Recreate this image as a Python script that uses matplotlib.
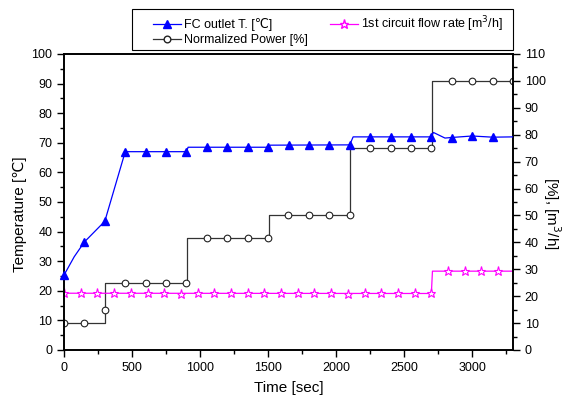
import matplotlib
matplotlib.use('Agg')
import matplotlib.pyplot as plt
from matplotlib.patches import Rectangle
from matplotlib.ticker import MultipleLocator

plt.rcParams['font.family'] = ['Liberation Sans', 'DejaVu Sans']

# FC outlet temperature [C] - line breakpoints and sampled markers
temp_line_t = [0, 75, 150, 300, 450, 900, 912, 1500, 1515, 2100, 2125, 2700, 2715, 2800,
               2850, 3000, 3150, 3300]
temp_line_v = [25.3, 31.5, 36.5, 43.5, 67.0, 67.0, 68.5, 68.5, 69.2, 69.3, 72.0, 72.0, 73.5, 71.6,
               71.8, 72.3, 71.9, 72.0]
temp_mark_t = [0, 150, 300, 450, 600, 750, 900, 1050, 1200, 1350, 1500, 1650, 1800, 1950,
               2100, 2250, 2400, 2550, 2700, 2850, 3000, 3150]
temp_mark_v = [25.3, 36.5, 43.5, 67.0, 67.0, 67.0, 67.0, 68.5, 68.5, 68.5, 68.5, 69.2, 69.2, 69.2,
               69.3, 72.0, 72.0, 71.9, 72.0, 71.6, 72.3, 71.9]

# Normalized power [%]
power_line_t = [0, 300, 300, 905, 905, 1505, 1505, 2105, 2105, 2705, 2705, 3300]
power_line_v = [10, 10, 25, 25, 41.8, 41.8, 50, 50, 75, 75, 100, 100]
power_mark_t = [0, 150, 300, 450, 600, 750, 900, 1050, 1200, 1350, 1500, 1650, 1800, 1950,
                2100, 2250, 2400, 2550, 2700, 2850, 3000, 3150, 3300]
power_mark_v = [10, 10, 14.7, 25, 25, 25, 25, 41.8, 41.8, 41.8, 41.8, 50, 50, 50,
                50, 75, 75, 75, 75, 100, 100, 100, 100]

# 1st circuit flow rate [m3/h]
flow_line_t = [0, 2700, 2708, 3300]
flow_line_v = [21.1, 21.0, 29.3, 29.3]
flow_mark_t = [0, 123, 245, 368, 491, 614, 736, 859, 982, 1105, 1227, 1350, 1473, 1595,
               1718, 1841, 1964, 2086, 2209, 2332, 2455, 2577, 2700, 2823, 2945, 3068, 3191]
flow_mark_v = [21.1, 21.1, 21.1, 21.2, 21.3, 21.1, 21.2, 20.9, 21.1, 21.1, 21.1, 21.1, 21.1, 21.1,
               21.1, 21.1, 21.1, 20.9, 21.1, 21.1, 21.1, 21.1, 21.0, 29.4, 29.4, 29.4, 29.3]

W, H = 569, 399
fig = plt.figure(figsize=(W / 100, H / 100), dpi=100)
ax = fig.add_axes([64 / W, 1 - 350 / H, 449 / W, 296 / H])
ax2 = ax.twinx()

ax.plot(temp_line_t, temp_line_v, color='#0000ff', lw=0.9, zorder=3)
ax.plot(temp_mark_t, temp_mark_v, ls='none', marker='^', ms=5.5, color='#0000ff',
        clip_on=False, zorder=4)

ax2.plot(power_line_t, power_line_v, color='#333333', lw=0.9)
ax2.plot(power_mark_t, power_mark_v, ls='none', marker='o', ms=4.8, mfc='white',
         mec='#222222', mew=0.8)
ax2.plot(flow_line_t, flow_line_v, color='#ff00ff', lw=0.9)
ax2.plot(flow_mark_t, flow_mark_v, ls='none', marker='*', ms=6.5, mfc='white',
         mec='#ff00ff', mew=0.8)

# bring the temperature axis to the front
ax.set_zorder(ax2.get_zorder() + 1)
ax.patch.set_visible(False)

ax.set_xlim(0, 3300)
ax.set_ylim(0, 100)
ax2.set_ylim(0, 110)
ax.xaxis.set_major_locator(MultipleLocator(500))
ax.xaxis.set_minor_locator(MultipleLocator(250))
ax.yaxis.set_major_locator(MultipleLocator(10))
ax.yaxis.set_minor_locator(MultipleLocator(5))
ax2.yaxis.set_major_locator(MultipleLocator(10))
ax2.yaxis.set_minor_locator(MultipleLocator(5))

for a in (ax, ax2):
    a.tick_params(which='major', direction='out', length=5, width=1, labelsize=9)
    a.tick_params(which='minor', direction='out', length=3, width=1)
    for s in a.spines.values():
        s.set_linewidth(1.2)

ax.set_xlabel('Time [sec]', fontsize=11, labelpad=5)
ax.set_ylabel('Temperature [\u2103]', fontsize=11, labelpad=3, y=0.46)
ax2.set_ylabel('[%], [m$^3$/h]', fontsize=11, rotation=270, labelpad=12, y=0.46)

h1, = ax.plot([], [], color='#0000ff', lw=0.9, marker='^', ms=5.5)
h2, = ax.plot([], [], color='#333333', lw=0.9, marker='o', ms=4.8, mfc='white', mec='#222222')
h3, = ax.plot([], [], color='#ff00ff', lw=0.9, marker='*', ms=6.5, mfc='white', mec='#ff00ff')
leg = fig.legend([h1, h2, h3],
                 ['FC outlet T. [\u2103]', 'Normalized Power [%]', '1st circuit flow rate [m$^3$/h]'],
                 ncol=2, loc='upper left', bbox_to_anchor=(153 / W, 1 - 14 / H), fontsize=9,
                 frameon=False, handlelength=2.25, handletextpad=0.25, columnspacing=1.75,
                 borderpad=0, borderaxespad=0, labelspacing=0.25)
fig.patches.append(Rectangle((132 / W, 1 - 50 / H), 381 / W, 41 / H, transform=fig.transFigure,
                             fill=False, edgecolor='black', lw=0.8))

fig.savefig('out.png', dpi=100)
